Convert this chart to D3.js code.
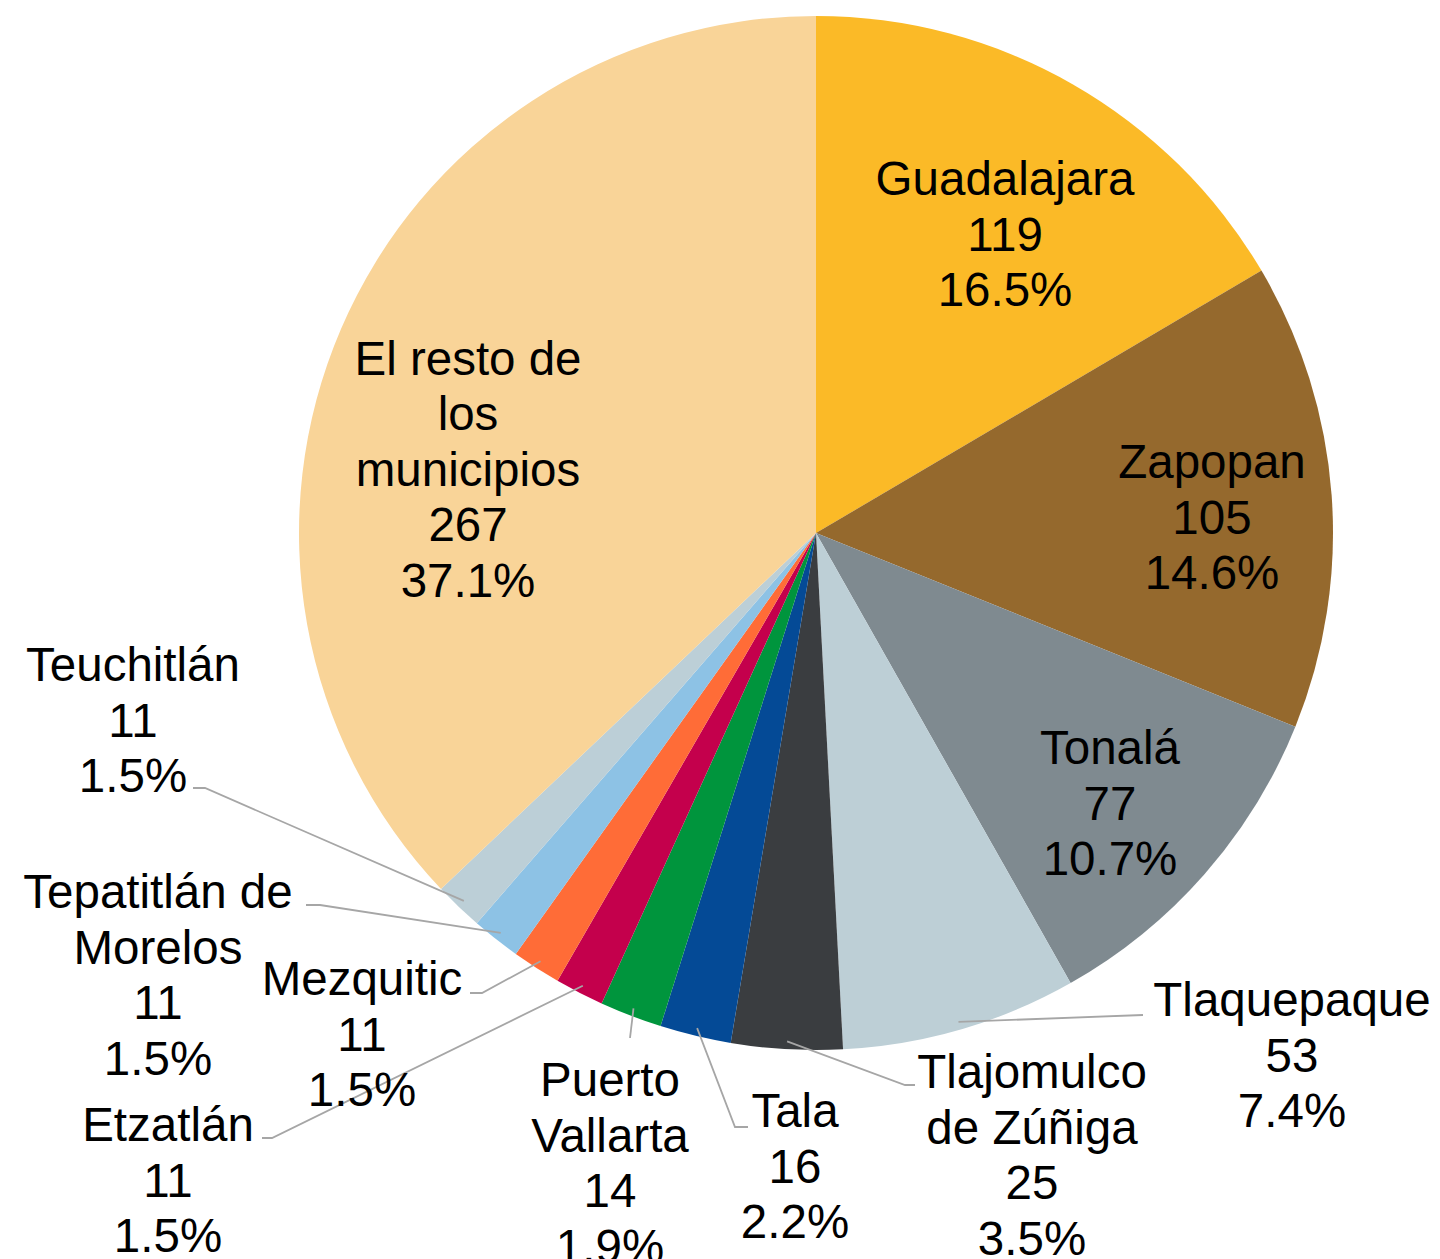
<!DOCTYPE html>
<meta charset="utf-8">
<style>
    body { margin: 0; background: #fff; }
    text { font-family: "Liberation Sans", Arial, sans-serif; fill: #000; }
</style>
<svg width="1440" height="1259"></svg>

<script src="https://d3js.org/d3.v7.min.js"></script>
<script>
    // data
    var municipios = ["Guadalajara", "Zapopan", "Tonalá", "Tlaquepaque", "Tlajomulco de Zúñiga",
        "Tala", "Puerto Vallarta", "Etzatlán", "Mezquitic", "Tepatitlán de Morelos",
        "Teuchitlán", "El resto de los municipios"];
    var valores = [119, 105, 77, 53, 25, 16, 14, 11, 11, 11, 11, 267];
    var porcentajes = ["16.5%", "14.6%", "10.7%", "7.4%", "3.5%", "2.2%", "1.9%",
        "1.5%", "1.5%", "1.5%", "1.5%", "37.1%"];
    var colores = ["#FBBA27", "#95692D", "#7F8A90", "#BDCFD6", "#3A3D40", "#044A96",
        "#00953D", "#C4004C", "#FF6C37", "#8DC2E5", "#BCCFD7", "#F9D498"];

    // label layout: name lines, label centre (relative to pie centre), leader elbow
    var nameLines = [["Guadalajara"], ["Zapopan"], ["Tonalá"], ["Tlaquepaque"],
        ["Tlajomulco", "de Zúñiga"], ["Tala"], ["Puerto", "Vallarta"], ["Etzatlán"],
        ["Mezquitic"], ["Tepatitlán de", "Morelos"], ["Teuchitlán"],
        ["El resto de", "los", "municipios"]];
    var labelAt = [[189, -299], [396, -16], [294, 270], [476, 522], [216, 622],
        [-21, 633], [-206, 630], [-648, 647], [-454, 501], [-658, 442], [-683, 187], [-348, -64]];
    var elbows = [null, null, null, [[327, 482]], [[99, 552], [89, 552]],
        [[-68, 594], [-81, 594]], [[-186, 505]], [[-554, 605], [-544, 605]],
        [[-346, 460], [-334, 460]], [[-510, 372], [-496, 372]], [[-623, 255], [-611, 255]], null];

    var svg = d3.select("svg"),
        cx = 816,
        cy = 533,
        radius = 517,
        fontSize = 47.5,
        lineH = 55.5;

    var pie = d3.pie().sort(null).value(function (d) { return d; });
    var arcs = pie(valores);
    var arc = d3.arc().innerRadius(0).outerRadius(radius);

    var g = svg.append("g").attr("transform", "translate(" + cx + "," + cy + ")");

    g.selectAll("path.slice")
        .data(arcs)
        .enter()
        .append("path")
        .attr("class", "slice")
        .attr("d", arc)
        .attr("fill", function (d, i) { return colores[i]; });

    // leader lines
    arcs.forEach(function (d, i) {
        if (!elbows[i]) return;
        var mid = (d.startAngle + d.endAngle) / 2,
            r = radius * 0.985,
            end = [Math.sin(mid) * r, -Math.cos(mid) * r];
        var pts = elbows[i].concat([end]);
        g.append("path")
            .attr("d", d3.line()(pts))
            .attr("fill", "none")
            .attr("stroke", "#A6A6A6")
            .attr("stroke-width", 1.8);
    });

    // labels
    arcs.forEach(function (d, i) {
        var lines = nameLines[i].concat([String(valores[i]), porcentajes[i]]);
        var pos = labelAt[i];
        var top = pos[1] - (lines.length - 1) * lineH / 2;
        var t = g.append("text")
            .attr("text-anchor", "middle")
            .attr("font-size", fontSize);
        lines.forEach(function (s, k) {
            t.append("tspan")
                .attr("x", pos[0])
                .attr("y", top + k * lineH)
                .attr("dy", "0.35em")
                .text(s);
        });
    });
</script>
